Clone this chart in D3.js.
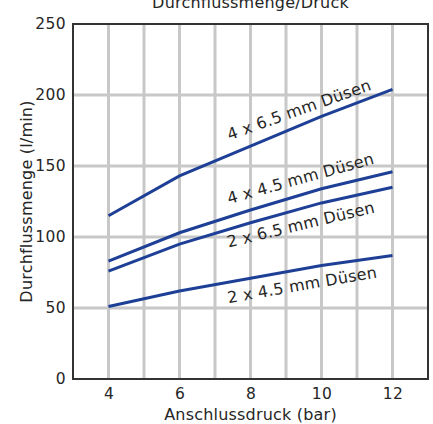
<!DOCTYPE html>
<html><head><meta charset="utf-8">
<script src="https://cdn.jsdelivr.net/npm/d3@7"></script>
<style>body{margin:0;background:#fff;} text{font-family:"DejaVu Sans",Verdana,sans-serif;fill:#262626;}</style>
</head><body>
<svg id="c" width="433" height="424"></svg>
<script>
const pressures = [4, 6, 8, 10, 12];
const seriesNames = ["4 x 6.5 mm Düsen", "4 x 4.5 mm Düsen", "2 x 6.5 mm Düsen", "2 x 4.5 mm Düsen"];
const flow4x65 = [115, 143, 164, 185, 204];
const flow4x45 = [83, 103, 119, 134, 146];
const flow2x65 = [76, 95, 110, 124, 135];
const flow2x45 = [51, 62, 71, 80, 87];
const xTicks = [4, 6, 8, 10, 12];
const yTicks = [0, 50, 100, 150, 200, 250];
const labelPos = [[9.42, 186], [9.45, 137.5], [9.45, 105], [9.48, 62.5]];
const labelAngle = [-19.5, -15.5, -13.5, -9.8];
const series = [flow4x65, flow4x45, flow2x65, flow2x45];

const m = {l: 73, r: 428, t: 24, b: 379};
const svg = d3.select("#c");
const x = d3.scaleLinear().domain([3, 13]).range([m.l, m.r]);
const y = d3.scaleLinear().domain([0, 250]).range([m.b, m.t]);

// grid
const g = svg.append("g");
g.selectAll(".vg").data(d3.range(4, 13)).join("line")
  .attr("x1", d => x(d)).attr("x2", d => x(d)).attr("y1", m.t).attr("y2", m.b)
  .attr("stroke", "#c8c8c8").attr("stroke-width", 3);
g.selectAll(".hg").data([50, 100, 150, 200]).join("line")
  .attr("y1", d => y(d)).attr("y2", d => y(d)).attr("x1", m.l).attr("x2", m.r)
  .attr("stroke", "#c8c8c8").attr("stroke-width", 3);

// frame
svg.append("rect").attr("x", m.l).attr("y", m.t).attr("width", m.r - m.l).attr("height", m.b - m.t)
  .attr("fill", "none").attr("stroke", "#333").attr("stroke-width", 2);

// axes (labels only)
const xa = svg.append("g").attr("transform", `translate(0,${m.b})`)
  .call(d3.axisBottom(x).tickValues(xTicks).tickSize(0).tickPadding(9));
xa.select(".domain").remove();
xa.selectAll("text").attr("font-size", 15.5).attr("font-family", "DejaVu Sans").attr("fill", "#262626").attr("letter-spacing", 0.4);
const ya = svg.append("g").attr("transform", `translate(${m.l},0)`)
  .call(d3.axisLeft(y).tickValues(yTicks).tickSize(0).tickPadding(7));
ya.select(".domain").remove();
ya.selectAll("text").attr("font-size", 15.5).attr("font-family", "DejaVu Sans").attr("fill", "#262626").attr("letter-spacing", 0.4);

// lines
const line = d3.line().x((d, i) => x(pressures[i])).y(d => y(d));
svg.selectAll(".ln").data(series).join("path")
  .attr("d", d => line(d)).attr("fill", "none").attr("stroke", "#1e3f96").attr("stroke-width", 3);

// labels
svg.selectAll(".lb").data(seriesNames).join("text")
  .attr("text-anchor", "middle").attr("font-size", 16).attr("letter-spacing", 0.25)
  .attr("transform", (d, i) => `translate(${x(labelPos[i][0])},${y(labelPos[i][1])}) rotate(${labelAngle[i]})`)
  .text(d => d);

// titles
svg.append("text").attr("x", (m.l + m.r) / 2).attr("y", 8).attr("text-anchor", "middle").attr("font-size", 16).attr("letter-spacing", 0.2)
  .text("Durchflussmenge/Druck");
svg.append("text").attr("x", (m.l + m.r) / 2).attr("y", 420).attr("text-anchor", "middle").attr("font-size", 16).attr("letter-spacing", 0.2)
  .text("Anschlussdruck (bar)");
svg.append("text").attr("transform", `translate(32,${(m.t + m.b) / 2}) rotate(-90)`).attr("text-anchor", "middle").attr("font-size", 16).attr("letter-spacing", 0.2)
  .text("Durchflussmenge (l/min)");
</script>
</body></html>
